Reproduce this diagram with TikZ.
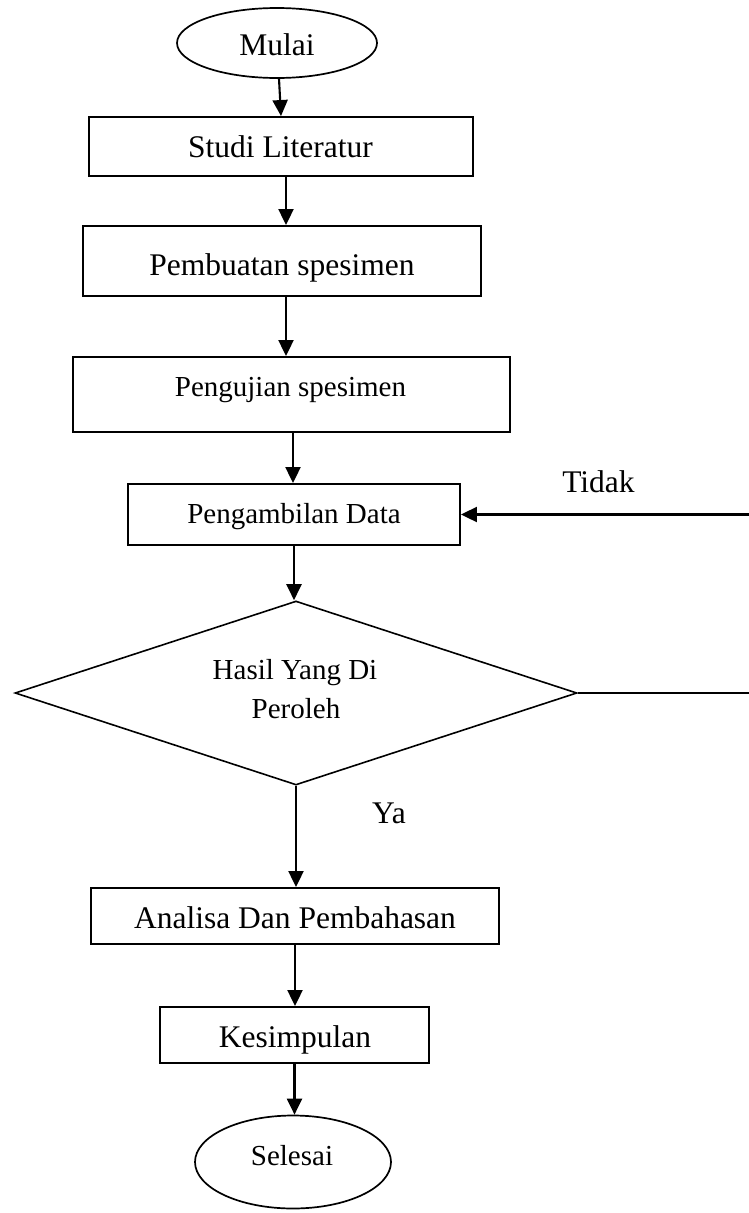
\documentclass[tikz,border=0pt]{standalone}
\usepackage{fontspec}
\setmainfont{Liberation Serif}
\usetikzlibrary{arrows.meta,shapes.geometric}
\begin{document}
\begin{tikzpicture}[x=1pt,y=-1pt,
  ln/.style={line width=1.9pt},
  shapebox/.style={draw,ln,rectangle,inner sep=0pt},
  oval/.style={draw,line width=1.7pt,ellipse,inner sep=0pt},
  decision/.style={draw,line width=1.6pt,diamond,inner sep=0pt},
  arr/.style={line width=2.1pt,-{Triangle[length=16pt,width=15pt]}},
  bigtxt/.style={inner sep=0pt,anchor=base,font=\fontsize{31.5}{36}\selectfont},
  smalltxt/.style={inner sep=0pt,anchor=base,font=\fontsize{29}{34}\selectfont}]
\useasboundingbox (0,0) rectangle (748,1213);
% shapes
\node[oval,minimum width=200pt,minimum height=70pt] (mulai) at (277,43) {};
\node[shapebox,minimum width=384pt,minimum height=59pt] (studi) at (281,146.5) {};
\node[shapebox,minimum width=398pt,minimum height=70pt] (pemb) at (282,261) {};
\node[shapebox,minimum width=437pt,minimum height=75pt] (penguj) at (291.5,394.5) {};
\node[shapebox,minimum width=332pt,minimum height=61pt] (pengamb) at (294,514.5) {};
\node[decision,minimum width=562pt,minimum height=184pt] (hasil) at (296,693) {};
\node[shapebox,minimum width=408pt,minimum height=56pt] (analisa) at (295,916) {};
\node[shapebox,minimum width=269pt,minimum height=56pt] (kesimp) at (294.5,1035) {};
\node[oval,minimum width=196pt,minimum height=93pt] (selesai) at (293,1162) {};
% texts
\node[bigtxt] (t-mulai) at (277,55) {Mulai};
\node[bigtxt] (t-studi) at (280.5,157) {Studi Literatur};
\node[bigtxt] (t-pemb) at (282,275) {Pembuatan spesimen};
\node[smalltxt] (t-penguj) at (290.5,396) {Pengujian spesimen};
\node[smalltxt] (t-pengamb) at (294,523) {Pengambilan Data};
\node[smalltxt] (t-hasil1) at (295,679) {Hasil Yang Di};
\node[smalltxt] (t-hasil2) at (296,718) {Peroleh};
\node[bigtxt] (t-analisa) at (295,928) {Analisa Dan Pembahasan};
\node[bigtxt] (t-kesimp) at (295,1047) {Kesimpulan};
\node[smalltxt] (t-selesai) at (292,1165) {Selesai};
\node[bigtxt] (t-tidak) at (598.5,492) {Tidak};
\node[bigtxt] (t-ya) at (389,823) {Ya};
% connectors
\draw[arr] ([xshift=2pt]mulai.south) -- (studi.north);
\draw[arr] ([xshift=5pt]studi.south) -- ([xshift=4pt]pemb.north);
\draw[arr] ([xshift=4pt]pemb.south) -- ([xshift=-5.5pt]penguj.north);
\draw[arr] ([xshift=1.5pt]penguj.south) -- ([xshift=-1pt]pengamb.north);
\draw[arr] (pengamb.south) -- (pengamb.south |- hasil.north);
\draw[arr] (hasil.south) -- (hasil.south |- analisa.north);
\draw[arr] (analisa.south) -- (analisa.south |- kesimp.north);
\draw[arr] (kesimp.south) -- (kesimp.south |- selesai.north);
\coordinate (r1) at (750,693);
\coordinate (r2) at (750,514.5);
\draw[arr] (hasil.east) -- (r1) -- (r2) -- (pengamb.east);
\end{tikzpicture}
\end{document}
